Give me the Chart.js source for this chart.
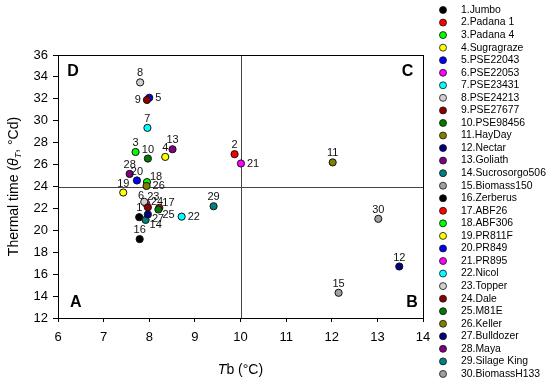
<!DOCTYPE html>
<html lang="en">
<head>
<meta charset="UTF-8" />
<title>Thermal time vs Tb</title>
<script src="https://cdn.jsdelivr.net/npm/chart.js"></script>
<style>
  html, body { margin: 0; padding: 0; background: #ffffff; }
  .chart-box { position: relative; width: 550px; height: 390px; }
</style>
</head>
<body>

<div class="chart-box"><canvas id="tbChart"></canvas></div>

<script>
  // cultivars, in legend order
  const cultivars = [
    '1.Jumbo', '2.Padana 1', '3.Padana 4', '4.Sugragraze', '5.PSE22043',
    '6.PSE22053', '7.PSE23431', '8.PSE24213', '9.PSE27677', '10.PSE98456',
    '11.HayDay', '12.Nectar', '13.Goliath', '14.Sucrosorgo506', '15.Biomass150',
    '16.Zerberus', '17.ABF26', '18.ABF306', '19.PR811F', '20.PR849',
    '21.PR895', '22.Nicol', '23.Topper', '24.Dale', '25.M81E',
    '26.Keller', '27.Bulldozer', '28.Maya', '29.Silage King', '30.BiomassH133'
  ];

  // base temperature Tb (°C)
  const tbValues = [
    7.78, 9.87, 7.70, 8.35, 8.00,
    7.93, 7.96, 7.80, 7.95, 7.97,
    12.02, 13.48, 8.51, 7.92, 12.15,
    7.79, 8.22, 7.95, 7.43, 7.73,
    10.01, 8.71, 7.89, 7.97, 8.20,
    7.94, 7.97, 7.57, 9.41, 13.02
  ];

  // thermal time (°Cd)
  const thermalTime = [
    21.2, 26.95, 27.15, 26.7, 32.1,
    22.45, 29.35, 33.5, 31.9, 26.55,
    26.2, 16.7, 27.4, 20.95, 14.3,
    19.2, 22.05, 24.4, 23.45, 24.55,
    26.1, 21.25, 22.6, 22.1, 21.9,
    24.05, 21.45, 25.15, 22.2, 21.05
  ];

  const dotColors = [
    '#000000', '#ff0000', '#00ff00', '#ffff00', '#0000ff',
    '#ff00ff', '#00ffff', '#d0d0d0', '#8b0000', '#007a00',
    '#808000', '#000080', '#800080', '#008080', '#a0a0a0',
    '#000000', '#ff0000', '#00ff00', '#ffff00', '#0000ff',
    '#ff00ff', '#00ffff', '#d0d0d0', '#8b0000', '#007a00',
    '#808000', '#000080', '#800080', '#008080', '#a0a0a0'
  ];

  // where each number label sits (default: above the dot)
  const labelSide = {
    5: 'right', 9: 'left', 14: 'br', 17: 'tr', 18: 'tr', 21: 'right',
    22: 'right', 23: 'tr', 24: 'tr', 25: 'br', 26: 'right', 27: 'br', 6: 'tl'
  };

  const quadrants = [
    { text: 'D', x: 6.33, y: 34.5 },
    { text: 'C', x: 13.66, y: 34.5 },
    { text: 'A', x: 6.39, y: 13.4 },
    { text: 'B', x: 13.76, y: 13.4 }
  ];

  Chart.defaults.font.family = 'Arial, "Liberation Sans", sans-serif';
  Chart.defaults.color = '#000';

  // mixed-style text (italic / subscript pieces), centred on cx,cy
  function drawRuns(ctx, runs, cx, cy) {
    let total = 0;
    runs.forEach(r => { ctx.font = r.font; r.w = ctx.measureText(r.text).width; total += r.w; });
    let x = cx - total / 2;
    ctx.textAlign = 'left';
    ctx.textBaseline = 'middle';
    runs.forEach(r => {
      ctx.font = r.font;
      ctx.fillText(r.text, x, cy + (r.dy || 0));
      x += r.w;
    });
  }

  const extrasPlugin = {
    id: 'extras',
    beforeDatasetsDraw(chart) {
      const { ctx, chartArea: a, scales: { x, y } } = chart;
      ctx.save();
      // cross lines at Tb = 10 and 24 °Cd
      ctx.strokeStyle = '#444';
      ctx.lineWidth = 1;
      const xm = Math.round(x.getPixelForValue(10)) + 0.5;
      const ym = Math.round(y.getPixelForValue(24)) + 0.5;
      ctx.beginPath();
      ctx.moveTo(xm, a.top); ctx.lineTo(xm, a.bottom);
      ctx.moveTo(a.left, ym); ctx.lineTo(a.right, ym);
      ctx.stroke();
      // box
      ctx.strokeStyle = '#000';
      ctx.strokeRect(Math.round(a.left) + 0.5, Math.round(a.top) + 0.5,
                     Math.round(a.right - a.left), Math.round(a.bottom - a.top));
      // quadrant letters
      ctx.font = 'bold 16px Arial, "Liberation Sans", sans-serif';
      ctx.fillStyle = '#000';
      ctx.textAlign = 'center';
      ctx.textBaseline = 'middle';
      quadrants.forEach(q => ctx.fillText(q.text, x.getPixelForValue(q.x), y.getPixelForValue(q.y)));
      ctx.restore();
    },
    afterDatasetsDraw(chart) {
      const { ctx } = chart;
      const pts = chart.getDatasetMeta(0).data;
      ctx.save();
      ctx.font = '11px Arial, "Liberation Sans", sans-serif';
      ctx.fillStyle = '#111';
      ctx.textBaseline = 'middle';
      pts.forEach((p, i) => {
        const n = String(i + 1);
        const side = labelSide[i + 1] || 'top';
        let dx = 0, dy = -9, align = 'center';
        if (side === 'right') { dx = 6; dy = 0; align = 'left'; }
        if (side === 'left') { dx = -6; dy = 0; align = 'right'; }
        if (side === 'tr') { dx = 3; dy = -5; align = 'left'; }
        if (side === 'br') { dx = 4; dy = 5; align = 'left'; }
        if (side === 'tl') { dx = -2; dy = -8; align = 'right'; }
        ctx.textAlign = align;
        ctx.fillText(n, p.x + dx, p.y + dy);
      });
      ctx.restore();
    },
    afterDraw(chart) {
      const { ctx, chartArea: a } = chart;
      ctx.save();
      ctx.fillStyle = '#000';
      // axis titles
      const reg = '14px Arial, "Liberation Sans", sans-serif';
      const ita = 'italic 14px Arial, "Liberation Sans", sans-serif';
      const sub = 'italic 9px Arial, "Liberation Sans", sans-serif';
      drawRuns(ctx, [
        { text: 'T', font: ita },
        { text: 'b (°C)', font: reg }
      ], (a.left + a.right) / 2, 370);
      ctx.translate(14, (a.top + a.bottom) / 2);
      ctx.rotate(-Math.PI / 2);
      drawRuns(ctx, [
        { text: 'Thermal time (', font: reg },
        { text: 'θ', font: ita },
        { text: 'T', font: sub, dy: 4 },
        { text: ', °Cd)', font: reg }
      ], 0, 0);
      ctx.restore();

      // legend
      ctx.save();
      ctx.font = '10.4px Arial, "Liberation Sans", sans-serif';
      ctx.textAlign = 'left';
      ctx.textBaseline = 'middle';
      cultivars.forEach((name, i) => {
        const ly = 10 + i * 12.55;
        ctx.beginPath();
        ctx.arc(443, ly, 3.5, 0, Math.PI * 2);
        ctx.fillStyle = dotColors[i];
        ctx.fill();
        ctx.lineWidth = 0.8;
        ctx.strokeStyle = '#111';
        ctx.stroke();
        ctx.fillStyle = '#000';
        ctx.fillText(name, 461, ly);
      });
      ctx.restore();
    }
  };

  const points = tbValues.map((v, i) => ({ x: v, y: thermalTime[i] }));

  new Chart(document.getElementById('tbChart'), {
    type: 'scatter',
    data: {
      labels: cultivars,
      datasets: [{
        label: 'Cultivars',
        data: points,
        pointRadius: 3.6,
        pointBorderWidth: 1,
        pointBorderColor: '#111',
        pointBackgroundColor: dotColors
      }]
    },
    options: {
      responsive: true,
      maintainAspectRatio: false,
      animation: false,
      layout: { padding: { top: 55, right: 127, left: 0, bottom: 0 } },
      plugins: { legend: { display: false }, tooltip: { enabled: false } },
      scales: {
        x: {
          type: 'linear', min: 6, max: 14,
          afterFit(s) { s.height = 72; },
          ticks: { stepSize: 1, font: { size: 13 }, padding: 8 },
          grid: { drawOnChartArea: false, tickLength: 4, tickColor: '#000' },
          border: { color: '#000' }
        },
        y: {
          min: 12, max: 36,
          afterFit(s) { s.width = 58; },
          ticks: { stepSize: 2, font: { size: 13 }, padding: 5 },
          grid: { drawOnChartArea: false, tickLength: 5, tickColor: '#000' },
          border: { color: '#000' }
        }
      }
    },
    plugins: [extrasPlugin]
  });
</script>

</body>
</html>
